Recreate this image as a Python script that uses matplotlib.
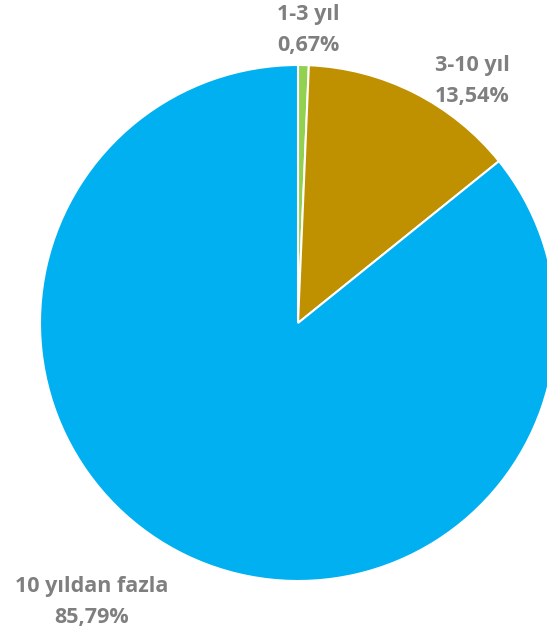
import matplotlib
matplotlib.use('agg')
import matplotlib.pyplot as plt

labels = ["1-3 yıl", "3-10 yıl", "10 yıldan fazla"]
values = [0.67, 13.54, 85.79]
colors = ["#92D050", "#BF9000", "#00B0F0"]

W, H = 547, 639


def main():
	fig = plt.figure(figsize=(W / 100, H / 100), dpi=100)
	ax = fig.add_axes([0, 0, 1, 1])

	ax.pie(values, colors=colors, startangle=90, counterclock=False,
		center=(298, H - 323), radius=258,
		wedgeprops=dict(edgecolor='white', linewidth=1.5))

	# pie() resets the limits, so set them afterwards
	ax.set_xlim(0, W)
	ax.set_ylim(0, H)
	ax.set_aspect('equal')
	ax.axis('off')

	# label positions (pixels from top-left), Excel style best fit
	pos = [(308, 30), (472, 81), (92, 602)]
	for lab, v, (x, y) in zip(labels, values, pos):
		txt = lab + "\n" + ("%.2f" % v).replace(".", ",") + "%"
		ax.text(x, H - y, txt, ha='center', va='center', color='#7F7F7F',
			fontsize=15.5, fontweight='bold', family=['Open Sans', 'DejaVu Sans'],
			linespacing=1.6)

	fig.savefig('out.png', dpi=100)


main()
